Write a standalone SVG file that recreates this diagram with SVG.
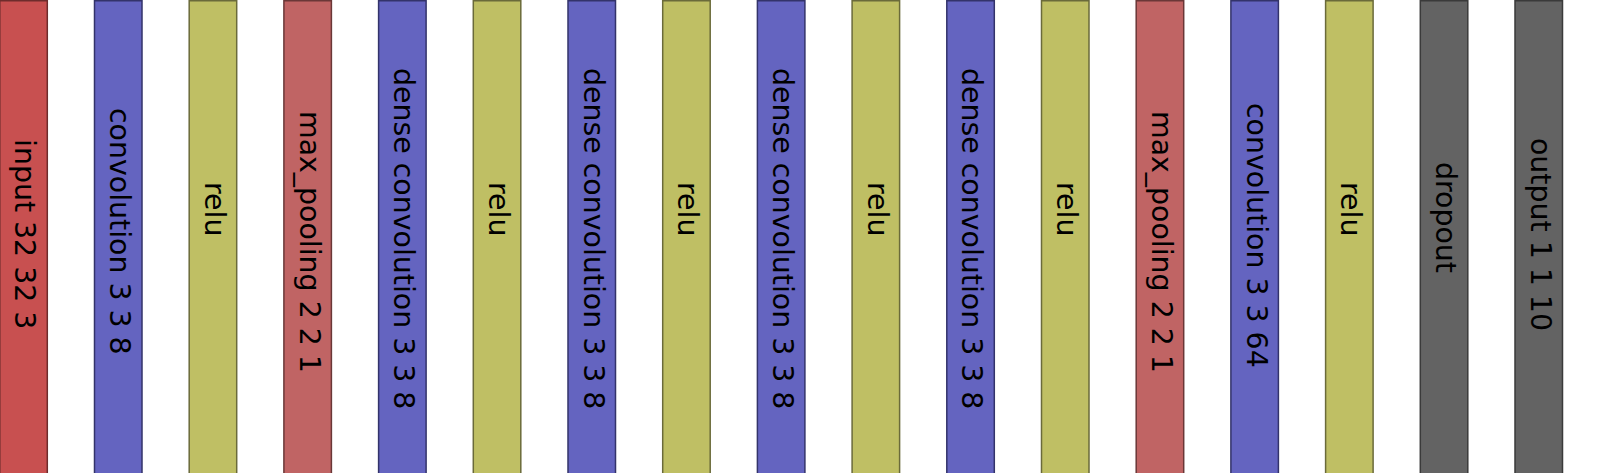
<svg xmlns="http://www.w3.org/2000/svg" width="1610" height="473" viewBox="0 0 1610 473">
<style>
rect{stroke-width:1.5}
.in{fill:#c85050;stroke:#6e2c2c}
.pool{fill:#c06464;stroke:#6a3737}
.conv{fill:#6464c0;stroke:#33336a}
.relu{fill:#bfbf64;stroke:#6a6a3a}
.gray{fill:#636363;stroke:#3a3a3a}
text{font-family:"DejaVu Sans",sans-serif;font-size:28.4px;fill:#000}
</style>
<rect x="0" y="0" width="1610" height="473" fill="#fff"/>
<g id="n0"><rect class="in" x="-0.2" y="0.75" width="47.5" height="500"/><text transform="translate(15,139) rotate(90)">input 32 32 3</text></g>
<g id="n1"><rect class="conv" x="94.5" y="0.75" width="47.5" height="500"/><text transform="translate(110,108) rotate(90)">convolution 3 3 8</text></g>
<g id="n2"><rect class="relu" x="189.2" y="0.75" width="47.5" height="500"/><text transform="translate(204.5,182) rotate(90)">relu</text></g>
<g id="n3"><rect class="pool" x="283.9" y="0.75" width="47.5" height="500"/><text transform="translate(299.5,111) rotate(90)">max_pooling 2 2 1</text></g>
<g id="n4"><rect class="conv" x="378.6" y="0.75" width="47.5" height="500"/><text transform="translate(394,68) rotate(90)">dense convolution 3 3 8</text></g>
<g id="n5"><rect class="relu" x="473.3" y="0.75" width="47.5" height="500"/><text transform="translate(488.5,182) rotate(90)">relu</text></g>
<g id="n6"><rect class="conv" x="568" y="0.75" width="47.5" height="500"/><text transform="translate(583.5,68) rotate(90)">dense convolution 3 3 8</text></g>
<g id="n7"><rect class="relu" x="662.7" y="0.75" width="47.5" height="500"/><text transform="translate(678,182) rotate(90)">relu</text></g>
<g id="n8"><rect class="conv" x="757.4" y="0.75" width="47.5" height="500"/><text transform="translate(773,68) rotate(90)">dense convolution 3 3 8</text></g>
<g id="n9"><rect class="relu" x="852.1" y="0.75" width="47.5" height="500"/><text transform="translate(867.5,182) rotate(90)">relu</text></g>
<g id="n10"><rect class="conv" x="946.8" y="0.75" width="47.5" height="500"/><text transform="translate(962,68) rotate(90)">dense convolution 3 3 8</text></g>
<g id="n11"><rect class="relu" x="1041.5" y="0.75" width="47.5" height="500"/><text transform="translate(1057,182) rotate(90)">relu</text></g>
<g id="n12"><rect class="pool" x="1136.2" y="0.75" width="47.5" height="500"/><text transform="translate(1151.5,111) rotate(90)">max_pooling 2 2 1</text></g>
<g id="n13"><rect class="conv" x="1230.9" y="0.75" width="47.5" height="500"/><text transform="translate(1246.5,103) rotate(90)">convolution 3 3 64</text></g>
<g id="n14"><rect class="relu" x="1325.6" y="0.75" width="47.5" height="500"/><text transform="translate(1341,182) rotate(90)">relu</text></g>
<g id="n15"><rect class="gray" x="1420.3" y="0.75" width="47.5" height="500"/><text transform="translate(1436,162) rotate(90)">dropout</text></g>
<g id="n16"><rect class="gray" x="1515" y="0.75" width="47.5" height="500"/><text transform="translate(1530.5,138) rotate(90)">output 1 1 10</text></g>
<g id="connectors"></g>
</svg>
